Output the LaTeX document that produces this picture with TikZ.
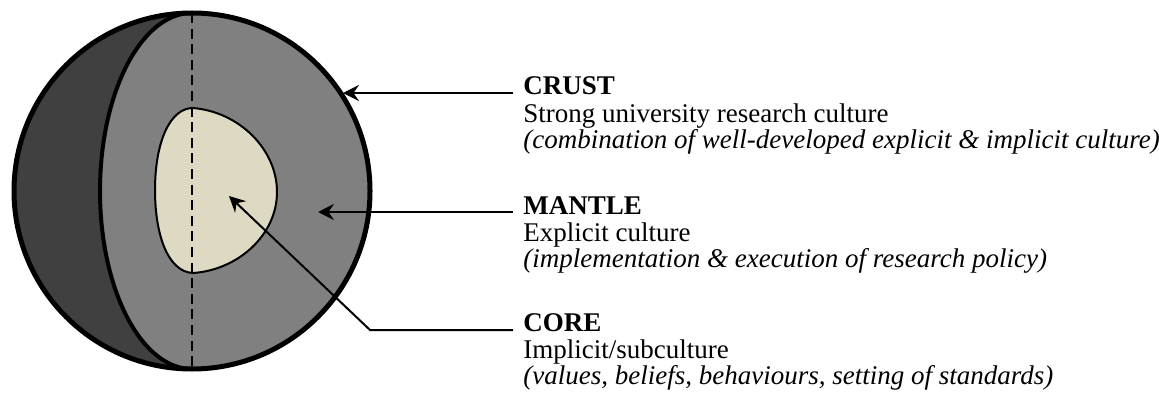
\documentclass[tikz,border=0pt]{standalone}
\usepackage{fontspec}
\setmainfont{Liberation Serif}
\usetikzlibrary{arrows.meta}
\definecolor{shellfar}{RGB}{64,64,64}
\definecolor{shellcut}{RGB}{128,128,128}
\definecolor{corefill}{RGB}{221,217,195}

\begin{document}
\begin{tikzpicture}[x=0.5pt,y=0.5pt,>={Stealth[length=8pt,width=8pt,inset=2.8pt]},
    pointer/.style={->,line width=1pt},
    title/.style={anchor=base west,inner sep=0pt,font=\fontsize{13.5}{13.5}\selectfont\bfseries},
    desc/.style={anchor=base west,inner sep=0pt,font=\fontsize{13.5}{13.5}\selectfont},
    note/.style={desc,font=\fontsize{13.5}{13.5}\selectfont\itshape}]
  \useasboundingbox (0,0) rectangle (1159,-401);
  \coordinate (C) at (192,-191);
  % far half of the ball
  \fill[shellfar] (C) circle[radius=178];
  % cut face
  \fill[shellcut] (192,-13) arc[start angle=90,end angle=270,x radius=92,y radius=178]
    arc[start angle=-90,end angle=90,radius=178] -- cycle;
  \draw[line width=2pt] (192,-13) arc[start angle=90,end angle=270,x radius=92,y radius=178];
  % core
  \draw[fill=corefill,line width=1pt] (193,-108)
    .. controls (240,-112) and (277,-150) .. (277,-192)
    .. controls (277,-235) and (238,-270) .. (193,-273)
    .. controls (168,-272) and (155,-235) .. (155,-190)
    .. controls (155,-142) and (170,-108) .. (193,-108) -- cycle;
  \draw[line width=0.75pt,dash pattern=on 5pt off 2.8pt] (192,-13) -- (192,-369);
  \draw[line width=2.5pt] (C) circle[radius=178];

  % labels
  \node[title] (crust) at (523,-95) {CRUST};
  \node[desc] (crust1) at (523,-122) {Strong university research culture};
  \node[note] (crust2) at (523,-148) {(combination of well-developed explicit \& implicit culture)};
  \node[title] (mantle) at (523,-214) {MANTLE};
  \node[desc] (mantle1) at (523,-241) {Explicit culture};
  \node[note] (mantle2) at (523,-267) {(implementation \& execution of research policy)};
  \node[title] (core) at (523,-331) {CORE};
  \node[desc] (core1) at (523,-358) {Implicit/subculture};
  \node[note] (core2) at (523,-384) {(values, beliefs, behaviours, setting of standards)};

  % pointers
  \coordinate (crusttip) at (343,-93);
  \coordinate (mantletip) at (318,-212);
  \coordinate (corebend) at (370,-330);
  \coordinate (coretip) at (229,-196);
  \draw[pointer] ([shift={(-10,2)}]crust.base west) -- (crusttip);
  \draw[pointer] ([shift={(-10,2)}]mantle.base west) -- (mantletip);
  \draw[pointer] ([shift={(-10,1)}]core.base west) -- (corebend) -- (coretip);
\end{tikzpicture}
\end{document}
